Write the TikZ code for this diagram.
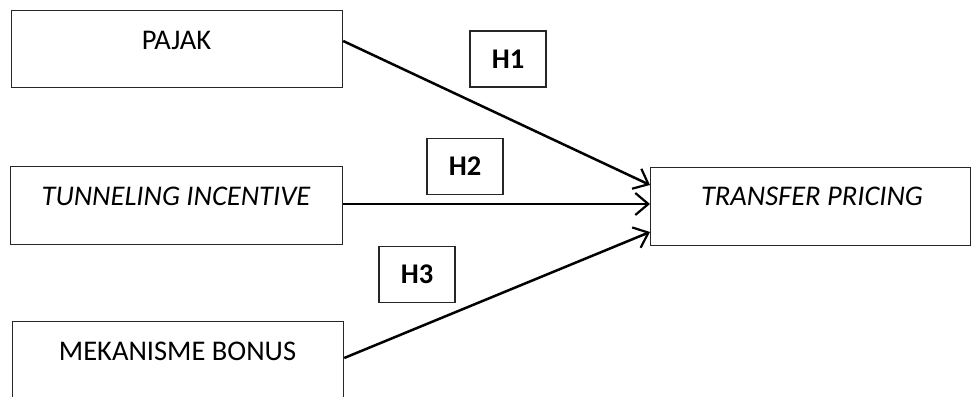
\documentclass[tikz,border=0pt]{standalone}
\usepackage{fontspec}
\setmainfont{Carlito}
\usetikzlibrary{arrows.meta}
\begin{document}
\begin{tikzpicture}[x=1pt,y=-1pt,
  box/.style={draw=black!85,line width=1.2pt,rectangle,inner sep=0pt,anchor=north west},
  lbl/.style={font=\fontsize{28.5}{32}\selectfont,inner sep=0pt},
  hbox/.style={draw=black!85,line width=1.2pt,rectangle,inner sep=0pt,minimum width=76pt,minimum height=56pt,font=\bfseries\fontsize{28.5}{32}\selectfont},
  arr/.style={line width=2.5pt,-{Straight Barb[length=13pt,width=22pt,line width=2.2pt]}}]
\clip (0,0) rectangle (971,396);
\node[box,minimum width=331pt,minimum height=77pt] (pajak) at (11,10) {};
\node[lbl] (pajakt) at (176.5,40) {PAJAK};
\node[box,minimum width=332pt,minimum height=78pt] (tunnel) at (10,166) {};
\node[lbl] (tunnelt) at (176,196) {\itshape TUNNELING INCENTIVE};
\node[box,minimum width=331pt,minimum height=90pt] (bonus) at (12,321) {};
\node[lbl] (bonust) at (177.5,351) {MEKANISME BONUS};
\node[box,minimum width=320pt,minimum height=78pt] (tp) at (650,167) {};
\node[lbl] (tpt) at (812,196) {\itshape TRANSFER PRICING};
\node[hbox] (h1) at (508,59) {H1};
\node[hbox] (h2) at (465,166.5) {H2};
\node[hbox] (h3) at (417,274.5) {H3};
\draw[arr] (pajak.east |- 0,41) -- (tp.west |- 0,185);
\draw[arr] (tunnel.east |- 0,204) -- (tp.west |- 0,204);
\draw[arr] (bonus.east |- 0,358) -- (tp.west |- 0,232);
\end{tikzpicture}
\end{document}
